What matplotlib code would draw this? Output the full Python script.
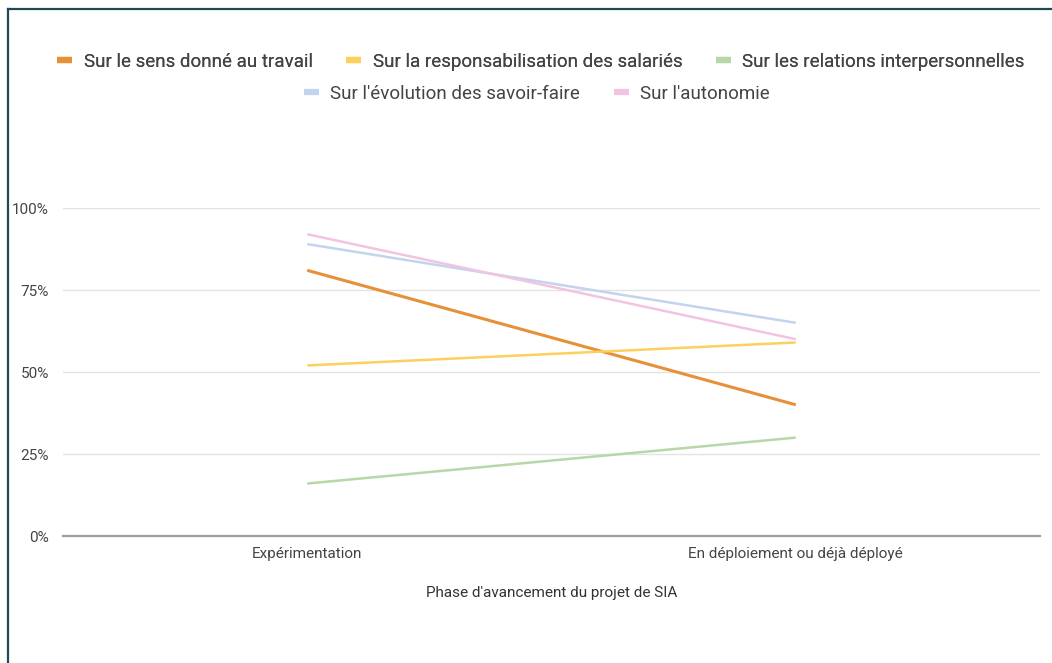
import matplotlib
matplotlib.use("Agg")
import matplotlib.pyplot as plt
from matplotlib.lines import Line2D
from matplotlib.ticker import PercentFormatter

plt.rcParams['font.family'] = ['Roboto', 'DejaVu Sans']

phases = ["Expérimentation", "En déploiement ou déjà déployé"]
series_names = [
    "Sur le sens donné au travail",
    "Sur la responsabilisation des salariés",
    "Sur les relations interpersonnelles",
    "Sur l'évolution des savoir-faire",
    "Sur l'autonomie",
]
sens = [0.81, 0.40]
responsabilisation = [0.52, 0.59]
relations = [0.16, 0.30]
savoir_faire = [0.89, 0.65]
autonomie = [0.92, 0.60]
colors = ["#e69138", "#fcd05c", "#b6d7a8", "#c3d4ee", "#f2c4e2"]

W, H = 1052, 663
fig = plt.figure(figsize=(W / 100, H / 100), dpi=100)
ax = fig.add_axes([63 / W, 1 - 536 / H, (1040 - 63) / W, (536 - 208) / H])

x = range(len(phases))
all_series = [sens, responsabilisation, relations, savoir_faire, autonomie]
handles = []
for vals, name, c in zip(all_series, series_names, colors):
    lw = 2.2 if c == "#e69138" else 1.8
    ln, = ax.plot(x, vals, color=c, lw=lw, label=name, solid_capstyle="butt")
    handles.append(ln)

ax.set_xlim(-0.5, 1.5)
ax.set_ylim(0, 1)
ax.set_yticks([0, 0.25, 0.5, 0.75, 1.0])
ax.yaxis.set_major_formatter(PercentFormatter(1.0, decimals=0))
ax.set_xticks(list(x))
ax.set_xticklabels(phases)
ax.grid(axis="y", color="#e3e3e3", lw=1)
ax.set_axisbelow(True)
for s in ["top", "right", "left"]:
    ax.spines[s].set_visible(False)
ax.spines["bottom"].set_color("#9e9e9e")
ax.spines["bottom"].set_linewidth(1.6)
ax.tick_params(axis="both", length=0, colors="#444444", labelsize=11)
ax.tick_params(axis="y", pad=10)
ax.tick_params(axis="x", pad=8)
ax.set_xlabel("Phase d'avancement du projet de SIA", fontsize=11, color="#333333", labelpad=18)

legend_kw = dict(frameon=False, fontsize=13.5, handlelength=0.8, handletextpad=0.6,
                 columnspacing=1.8, labelcolor="#444444", loc="center")
leg1 = fig.legend(handles=handles[:3], ncol=3, bbox_to_anchor=(541 / W, 1 - 62 / H), **legend_kw)
for h in leg1.legend_handles:
    h.set_linewidth(4.5)
leg2 = fig.legend(handles=handles[3:], ncol=2, bbox_to_anchor=(537 / W, 1 - 94 / H), **legend_kw)
for h in leg2.legend_handles:
    h.set_linewidth(4.5)
fig.add_artist(leg1)

# frame border on top and left
fig.add_artist(Line2D([8 / W, 1], [1 - 9 / H, 1 - 9 / H], color="#1d4a55", lw=1.6, transform=fig.transFigure))
fig.add_artist(Line2D([8 / W, 8 / W], [0, 1 - 9 / H], color="#1d4a55", lw=1.6, transform=fig.transFigure))

fig.savefig("out.png", dpi=100)
